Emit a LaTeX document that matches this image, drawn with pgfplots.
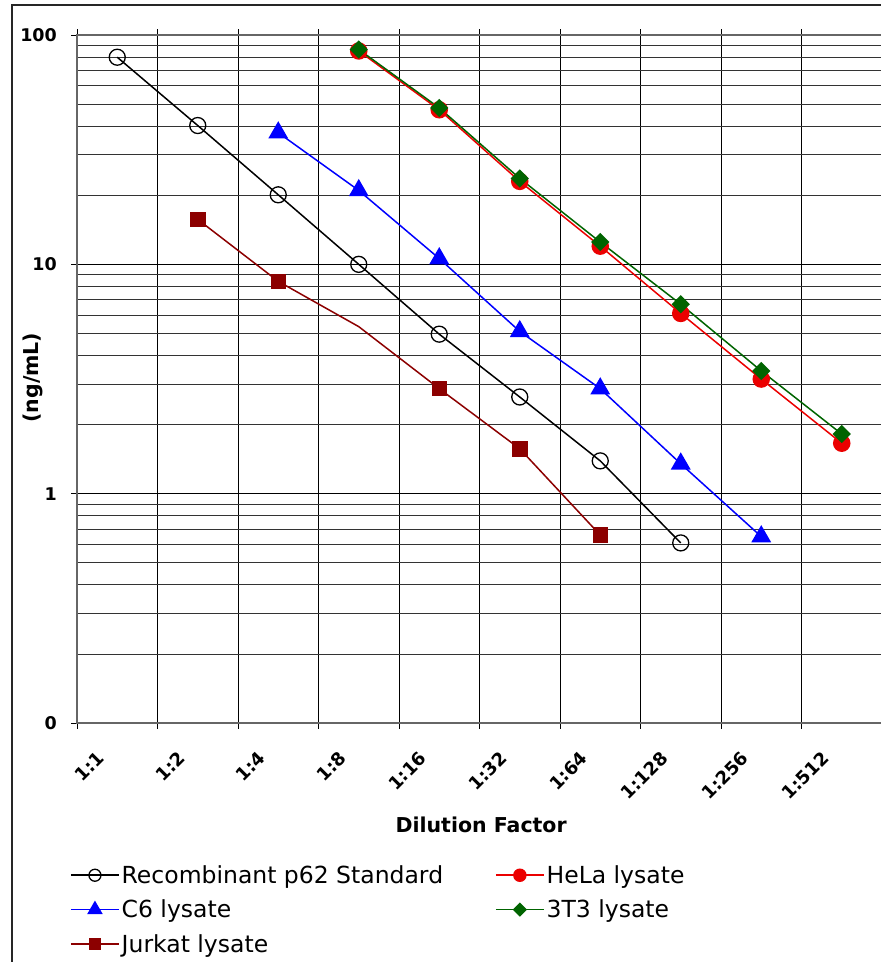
\documentclass[border=0pt]{standalone}
\usepackage{fontspec}
\setmainfont{DejaVu Sans}
\usepackage{pgfplots}
\pgfplotsset{compat=1.18}
\definecolor{jurk}{RGB}{140,0,0}
\definecolor{hela}{RGB}{235,0,0}
\definecolor{ttt}{RGB}{0,100,0}
\definecolor{csix}{RGB}{0,0,255}
\begin{document}
\begin{tikzpicture}[x=1pt,y=1pt]
\useasboundingbox (0,0) rectangle (881,-962);
\draw[line width=1.3pt, black!85] (12,-962) -- (12,-5) -- (882,-5);
\begin{axis}[
  at={(77pt,-723pt)}, anchor=south west, scale only axis,
  width=805pt, height=688pt,
  ymode=log, ymin=0.1, ymax=100, xmin=-0.5, xmax=9.5,
  xtick={-0.5,0.5,1.5,2.5,3.5,4.5,5.5,6.5,7.5,8.5,9.5},
  xticklabels={},
  extra x ticks={0,1,2,3,4,5,6,7,8,9},
  extra x tick labels={1:1,1:2,1:4,1:8,1:16,1:32,1:64,1:128,1:256,1:512},
  extra x tick style={grid=none, tick style={draw=none}},
  ytick={0.1,1,10,100}, yticklabels={0,1,10,100},
  minor ytick={0.2,0.3,0.4,0.5,0.6,0.7,0.8,0.9,2,3,4,5,6,7,8,9,20,30,40,50,60,70,80,90},
  xmajorgrids, ymajorgrids, yminorgrids,
  tick align=outside, major tick length=6pt, minor tick length=0pt,
  grid style={black, line width=0.9pt},
  minor grid style={black!80, line width=0.9pt},
  tick style={black, line width=1pt},
  axis line style={black!60, line width=1.3pt},
  xticklabel style={font=\bfseries\fontsize{18}{18}\selectfont, inner sep=0pt, anchor=east, xshift=-16pt, yshift=-26pt, rotate=45},
  yticklabel style={font=\bfseries\fontsize{17.5}{17.5}\selectfont, inner sep=0pt, anchor=east, xshift=-14pt},
  xlabel={Dilution Factor},
  xlabel style={font=\bfseries\fontsize{20.5}{20.5}\selectfont, at={(axis description cs:0.502,-0.1483)}, anchor=center},
  ylabel={(ng/mL)},
  ylabel style={font=\bfseries\fontsize{20.5}{20.5}\selectfont, at={(axis description cs:-0.0553,0.502)}, anchor=center},
  legend columns=2,
  legend cell align=left,
  legend style={draw=none, fill=none, inner sep=0pt, at={(axis description cs:-0.0087,-0.204)}, anchor=north west,
    font=\fontsize{23.5}{23.5}\selectfont, nodes={inner sep=2pt}, row sep=11pt,
    /tikz/column 2/.style={column sep=50pt}},
  legend image code/.code={\draw[#1, mark=none] (0pt,0pt) -- (48pt,0pt); \draw[#1, mark indices={1}, every mark/.append style={scale=0.75}] plot coordinates {(24pt,0pt)};},
]
\addplot[black, line width=1.5pt, mark=o, mark size=8pt, mark options={line width=1.3pt}] coordinates {
 (0,80.0) (1,40.3) (2,20.1) (3,10.0) (4,4.96) (5,2.64) (6,1.39) (7,0.61)};
\addlegendentry{Recombinant p62 Standard}
\addplot[hela, line width=1.5pt, mark=*, mark size=8pt, mark options={fill=hela, draw=hela}] coordinates {
 (3,85.2) (4,47.2) (5,23.0) (6,12.0) (7,6.11) (8,3.16) (9,1.66)};
\addlegendentry{HeLa lysate}
\addplot[csix, line width=1.5pt, mark=triangle*, mark size=10pt, mark options={fill=csix, draw=csix}] coordinates {
 (2,37.5) (3,21.0) (4,10.6) (5,5.1) (6,2.87) (7,1.35) (8,0.65)};
\addlegendentry{C6 lysate}
\addplot[ttt, line width=1.5pt, mark=square*, mark size=5.7pt, mark options={fill=ttt, draw=ttt, rotate=45}] coordinates {
 (3,86.5) (4,48.1) (5,23.7) (6,12.5) (7,6.70) (8,3.43) (9,1.82)};
\addlegendentry{3T3 lysate}
\addplot[jurk, line width=1.5pt, mark=square*, mark size=7pt, mark options={fill=jurk, draw=jurk}, mark indices={1,2,4,5,6}] coordinates {
 (1,15.7) (2,8.43) (3,5.35) (4,2.87) (5,1.57) (6,0.66)};
\addlegendentry{Jurkat lysate}
\end{axis}
\end{tikzpicture}
\end{document}
